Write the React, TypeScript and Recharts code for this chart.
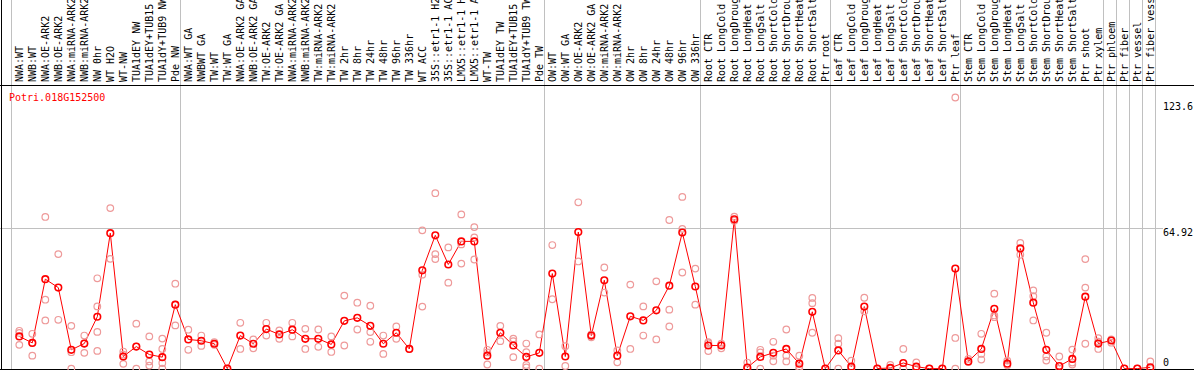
import React from 'react';
import { ComposedChart, Line, Scatter, XAxis, YAxis, ReferenceLine } from 'recharts';

const GENE = 'Potri.018G152500';

const CATEGORIES = [
  'NWA:WT', 'NWB:WT', 'NWA:OE-ARK2', 'NWB:OE-ARK2', 'NWA:miRNA-ARK2', 'NWB:miRNA-ARK2',
  'NW 0hr', 'WT H2O', 'WT-NW', 'TUA1dEY NW', 'TUA1dEY+TUB15 NW', 'TUA1dY+TUB9 NW', 'Pde NW',
  'NWA:WT GA', 'NWBWT GA', 'TW:WT', 'TW:WT GA', 'NWA:OE-ARK2 GA', 'NWB:OE-ARK2 GA',
  'TW:OE-ARK2', 'TW:OE-ARK2 GA', 'NWA:miRNA-ARK2', 'NWB:miRNA-ARK2', 'TW:miRNA-ARK2',
  'TW:miRNA-ARK2', 'TW 2hr', 'TW 8hr', 'TW 24hr', 'TW 48hr', 'TW 96hr', 'TW 336hr',
  'WT ACC', '35S::etr1-1 H2O', '35S::etr1-1 ACC', 'LMX5::etr1-1 H2O', 'LMX5::etr1-1 ACC',
  'WT-TW', 'TUA1dEY TW', 'TUA1dEY+TUB15 TW', 'TUA1dY+TUB9 TW', 'Pde TW',
  'OW:WT', 'OW:WT GA', 'OW:OE-ARK2', 'OW:OE-ARK2 GA', 'OW:miRNA-ARK2', 'OW:miRNA-ARK2',
  'OW 2hr', 'OW 8hr', 'OW 24hr', 'OW 48hr', 'OW 96hr', 'OW 336hr',
  'Root CTR', 'Root LongCold', 'Root LongDrought', 'Root LongHeat', 'Root LongSalt',
  'Root ShortCold', 'Root ShortDrought', 'Root ShortHeat', 'Root ShortSalt', 'Ptr root',
  'Leaf CTR', 'Leaf LongCold', 'Leaf LongDrought', 'Leaf LongHeat', 'Leaf LongSalt',
  'Leaf ShortCold', 'Leaf ShortDrought', 'Leaf ShortHeat', 'Leaf ShortSalt', 'Ptr leaf',
  'Stem CTR', 'Stem LongCold', 'Stem LongDrought', 'Stem LongHeat', 'Stem LongSalt',
  'Stem ShortCold', 'Stem ShortDrought', 'Stem ShortHeat', 'Stem ShortSalt', 'Ptr shoot',
  'Ptr xylem', 'Ptr phloem', 'Ptr fiber', 'Ptr vessel', 'Ptr fiber vessel',
];

// mean expression per sample (the red line)
const MEANS = [
  14.9, 11.9, 41.4, 37.5, 8.7, 11.6, 24.0, 62.7, 5.6, 10.2, 6.5, 5.3, 29.6,
  13.5, 12.9, 11.5, 0, 15.3, 11.5, 18.3, 15.8, 18.0, 13.8, 13.8, 11.2, 22.1, 23.5,
  19.8, 11.5, 16.6, 9.1, 45.5, 61.7, 48.2, 58.9, 58.9, 6.0, 16.6, 10.7, 5.4, 7.3,
  44.0, 5.6, 63.2, 15.3, 40.9, 6.0, 24.2, 22.3, 27.0, 38.4, 63.0, 38.0,
  10.7, 10.7, 69.1, 0.5, 5.4, 7.3, 9.1, 2.3, 26.3, 0,
  8.4, 0.9, 28.7, 0, 0.3, 2.6, 0.9, 0, 0, 46.3,
  3.3, 9.1, 27.7, 2.3, 55.6, 30.5, 8.7, 1.2, 4.5, 33.3, 11.6,
  13.0, 0, 0, 0.6,
];

// individual replicates (pale circles)
const REPLICATES = [
  [17.5, 16.5, 11.0], [16.1, 12.0, 6.0], [70.2, 31.9, 22.3], [53.0, 22.6],
  [19.8, 7.6, 0], [15.3, 11.6, 7.3], [41.8, 28.8, 17.0, 8.2], [74.3, 50.8],
  [7.9, 6.5, 2.2], [20.8, 10.2, 0], [14.9, 3.3, 1.4], [13.9, 9.1, 2.6, 0], [39.3, 29.6, 20.0],
  [18.0, 8.7], [15.3, 10.5], [12.2, 11.0], [0, 0], [21.2, 9.1], [13.5, 9.4],
  [21.2, 15.3], [17.7, 13.8], [21.2, 14.9], [18.4, 9.1], [18.1, 10.1], [14.9, 7.7],
  [33.8, 10.7], [30.5, 18.1], [29.1, 16.9, 12.4], [15.3, 6.8], [19.5, 13.8], [9.1],
  [64.0, 43.5, 28.7], [81.2, 53.0, 50.7], [56.1, 39.8], [71.4, 57.5, 48.6], [65.5, 60.7, 50.5],
  [8.7, 7.5, 1.9], [19.8, 12.7], [13.9, 12.7, 5.3], [11.6, 7.6, 1.7, 0.5], [15.8, 0],
  [57.2, 32.1], [10.4, 1.2], [77.0, 49.6], [15.8, 14.5], [46.8, 35.2], [8.4, 2.9],
  [38.9, 9.1], [28.8, 15.3], [40.4, 13.5], [68.8, 27.3, 19.5], [79.5, 64.7, 44.5], [46.3, 29.6],
  [12.2, 8.1, 11.8], [11.5, 9.4], [70.3, 68.5], [2.8, 0, 0], [8.7, 7.5, 0],
  [12.4, 6.0, 3.4], [18.1, 6.0, 3.3], [6.0, 0.8, 0], [32.7, 30.3, 16.6], [0],
  [14.1, 11.5, 0], [3.7, 0], [32.8, 26.5], [0], [1.7, 0],
  [9.1, 0, 0], [2.9, 0], [0], [0], [125.5, 14.2, 0],
  [4.5, 3.0], [16.1, 6.8, 4.2], [34.7, 24.6, 23.8], [3.7, 1.5], [58.2, 55.9, 52.7],
  [36.2, 33.5, 22.3], [16.6, 5.6, 3.7], [5.6, 0], [8.8, 1.9, 2.8], [50.7, 37.5, 11.5],
  [14.1, 12.5, 9.1], [13.5, 12.0], [0], [0], [3.3, 0],
];

// first sample index of each block separated by a grey line
const GROUP_STARTS = [0, 13, 41, 53, 63, 73, 84, 85, 86, 87, 88];
const Y_TICKS = [0, 64.92, 123.6];

const W = 1194;
const H = 370;
const PX_PER_CAT = 13;
const FIRST_PX = 19.3;
const X_MIN = -FIRST_PX / PX_PER_CAT;
const X_MAX = X_MIN + W / PX_PER_CAT;
const PX_PER_UNIT = 2.16;
const Y_MAX = 368.6 / PX_PER_UNIT;
const Y_MIN = Y_MAX - H / PX_PER_UNIT;
const pxToX = (px: number) => X_MIN + px / PX_PER_CAT;
const pxToY = (px: number) => Y_MAX - px / PX_PER_UNIT;

const FONT = '"DejaVu Sans Mono", monospace';

const meanRows = MEANS.map((v, i) => ({ x: i, y: v }));
const repRows = REPLICATES.flatMap((reps, i) => reps.map((v) => ({ x: i, y: v })));
const xTicks = CATEGORIES.map((_, i) => i);

const CategoryTick = ({ x, payload }: any) => {
  const tx = x + 3.7;
  return (
    <text x={tx} y={82} transform={`rotate(-90 ${tx} 82)`} fontFamily={FONT} fontSize={10} fill="#000">
      {CATEGORIES[payload.value]}
    </text>
  );
};

const ValueTick = ({ y, payload }: any) => (
  <text x={1163} y={y + (payload.value === 0 ? -3 : 8)} fontFamily={FONT} fontSize={10} fill="#000">
    {payload.value}
  </text>
);

const RepDot = ({ cx, cy }: any) => (
  <circle cx={cx} cy={cy} r={3.3} fill="none" stroke="#ee9a9a" strokeWidth={1.2} />
);

export default function App() {
  return (
    <div style={{ position: 'absolute', left: 0, top: 0, width: W, height: H, background: '#fff', overflow: 'hidden' }}>
      <ComposedChart width={W} height={H} data={meanRows} margin={{ top: 0, right: -1, bottom: -1, left: 0 }}>
        <XAxis
          dataKey="x"
          type="number"
          domain={[X_MIN, X_MAX]}
          allowDataOverflow
          ticks={xTicks}
          interval={0}
          height={1}
          axisLine={false}
          tickLine={false}
          tick={<CategoryTick />}
        />
        <YAxis
          dataKey="y"
          type="number"
          orientation="right"
          domain={[Y_MIN, Y_MAX]}
          allowDataOverflow
          ticks={Y_TICKS}
          interval={0}
          width={1}
          axisLine={false}
          tickLine={false}
          tick={<ValueTick />}
        />
        {GROUP_STARTS.map((g) => (
          <ReferenceLine key={g} x={pxToX(11 + PX_PER_CAT * g)} stroke="#c0c0c0" shapeRendering="crispEdges" />
        ))}
        <ReferenceLine
          segment={[{ x: X_MIN, y: 64.92 }, { x: pxToX(1162.5), y: 64.92 }]}
          stroke="#c0c0c0"
          shapeRendering="crispEdges"
        />
        <ReferenceLine x={pxToX(1.5)} stroke="#000" shapeRendering="crispEdges" />
        <ReferenceLine y={pxToY(85.5)} stroke="#000" shapeRendering="crispEdges" />
        <ReferenceLine y={pxToY(369.5)} stroke="#000" shapeRendering="crispEdges" />
        <Scatter data={repRows} dataKey="y" shape={<RepDot />} isAnimationActive={false} />
        <Line
          dataKey="y"
          stroke="#ff0000"
          strokeWidth={1}
          dot={{ r: 3.3, stroke: '#ff0000', strokeWidth: 1.6, fill: 'none' }}
          activeDot={false}
          isAnimationActive={false}
        />
      </ComposedChart>
      <div
        style={{
          position: 'absolute',
          left: 9,
          top: 92.5,
          fontFamily: FONT,
          fontSize: 10,
          lineHeight: '10px',
          color: '#ff0000',
          whiteSpace: 'nowrap',
        }}
      >
        {GENE}
      </div>
    </div>
  );
}
